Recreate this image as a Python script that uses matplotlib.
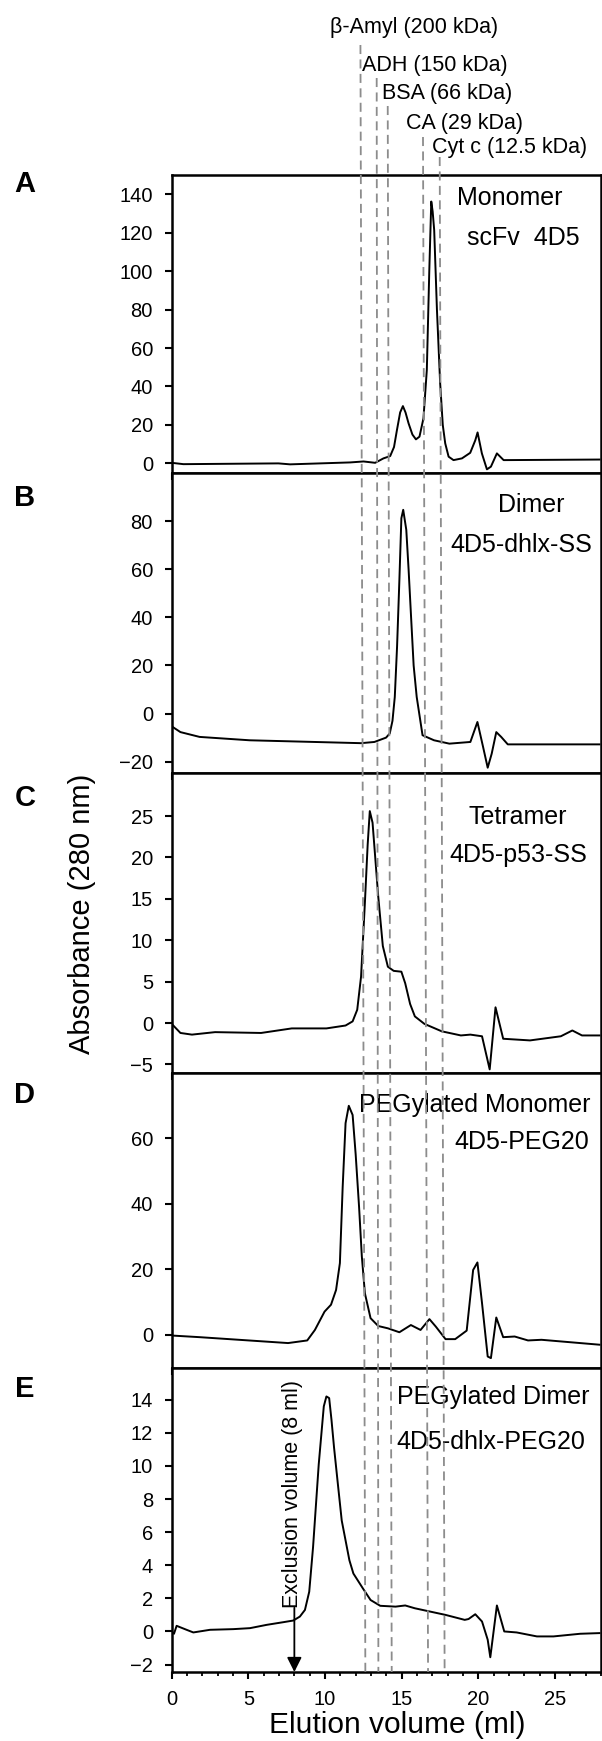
import matplotlib
matplotlib.use("Agg")
import matplotlib.pyplot as plt
from matplotlib.lines import Line2D
from matplotlib.transforms import blended_transform_factory
import numpy as np

plt.rcParams['font.family'] = ['Liberation Sans', 'DejaVu Sans']

# ---------------- data ----------------
a_x = [0.0, 0.76, 6.96, 7.72, 11.64, 12.51, 13.27, 13.81, 14.25, 14.5, 14.69, 14.9, 15.08, 15.25, 15.45,
       15.7, 15.93, 16.16, 16.42, 16.64, 16.8, 16.93, 17.02, 17.12, 17.30, 17.51, 17.68, 17.84, 18.06,
       18.38, 18.93, 19.47, 19.8, 19.95, 20.23, 20.56, 20.82, 21.21, 21.65, 27.9]
a_y = [0.3, -0.4, 0.0, -0.5, 0.5, 1.0, 0.3, 2.6, 3.8, 8.5, 17.3, 26.5, 29.8, 26.5, 20.8,
       15.0, 12.5, 13.9, 23.4, 48.6, 100.0, 136.2, 131.0, 121.4, 79.8, 41.6, 20.0, 10.4, 3.5,
       1.7, 2.6, 5.5, 12.0, 16.1, 5.2, -3.1, -1.7, 5.2, 1.7, 2.0]

b_x = [0.0, 0.57, 1.82, 5.08, 12.35, 13.22, 13.98, 14.22, 14.4, 14.55, 14.7, 14.85, 14.98, 15.10, 15.30,
       15.45, 15.60, 15.78, 15.98, 16.36, 17.11, 18.11, 19.48, 19.94, 20.31, 20.61, 20.87, 21.17,
       21.49, 21.92, 27.9]
b_y = [-5.3, -7.7, -9.7, -11.1, -12.3, -11.8, -10.0, -8.3, -3.0, 6.9, 28.0, 55.5, 81.2, 84.7, 76.4,
       60.0, 41.7, 20.0, 6.9, -9.0, -11.1, -12.5, -11.8, -3.5, -13.9, -22.5, -16.7, -7.7,
       -9.7, -12.8, -12.8]

c_x = [0.0, 0.57, 1.32, 2.83, 5.83, 7.83, 10.09, 11.34, 11.8, 12.10, 12.35, 12.60, 12.78, 12.92, 13.10,
       13.47, 13.77, 14.10, 14.48, 14.98, 15.23, 15.55, 15.86, 16.48, 17.61, 18.86, 19.48, 20.24,
       20.74, 21.12, 21.62, 23.37, 25.38, 26.13, 26.76, 27.9]
c_y = [-0.1, -1.2, -1.4, -1.1, -1.2, -0.65, -0.65, -0.3, 0.2, 1.6, 5.6, 14.5, 21.5, 25.6, 24.2,
       15.3, 9.3, 6.8, 6.3, 6.2, 4.8, 2.3, 0.8, -0.1, -1.0, -1.5, -1.4, -1.6,
       -5.6, 1.9, -1.9, -2.1, -1.6, -0.9, -1.5, -1.5]

d_x = [0.0, 1.82, 7.59, 8.84, 9.34, 9.97, 10.39, 10.72, 10.97, 11.15, 11.34, 11.55, 11.80, 12.0, 12.22,
       12.40, 12.60, 12.97, 13.47, 14.10, 14.85, 15.60, 16.23, 16.81, 17.23, 17.86, 18.49, 19.24,
       19.66, 19.94, 20.24, 20.61, 20.82, 21.17, 21.62, 22.37, 23.24, 24.12, 27.9]
d_y = [-0.2, -0.7, -2.5, -1.7, 1.5, 7.1, 9.2, 13.7, 21.9, 45.0, 64.6, 69.9, 67.1, 55.0, 39.1,
       24.0, 12.7, 5.1, 2.7, 2.0, 0.8, 3.0, 1.5, 4.8, 2.5, -1.3, -1.3, 1.3,
       19.8, 22.1, 9.7, -6.6, -7.1, 5.3, -0.7, -0.5, -1.7, -1.5, -3.0]

e_x = [0.0, 0.15, 0.32, 0.97, 1.41, 2.5, 4.02, 5.11, 6.2, 7.28, 7.93, 8.36, 8.69, 8.97, 9.22, 9.59,
       9.92, 10.09, 10.27, 10.42, 10.59, 10.85, 11.09, 11.59, 11.85, 12.47, 12.97, 13.6, 14.6, 15.23,
       15.86, 16.86, 17.86, 19.11, 19.36, 19.8, 20.24, 20.61, 20.78, 21.21, 21.69, 22.5, 23.82,
       24.9, 26.64, 27.9]
e_y = [0.0, -0.14, 0.34, 0.10, -0.06, 0.10, 0.14, 0.2, 0.4, 0.56, 0.66, 0.9, 1.3, 2.4, 5.1, 10.1,
       13.6, 14.2, 14.1, 12.8, 11.1, 8.8, 6.7, 4.3, 3.5, 2.6, 1.9, 1.55, 1.5, 1.57,
       1.4, 1.2, 1.0, 0.7, 0.75, 1.04, 0.6, -0.5, -1.56, 1.57, 0.0, -0.06, -0.3,
       -0.3, -0.14, -0.1]

panel_letters = ['A', 'B', 'C', 'D', 'E']
panel_names = ['Monomer', 'Dimer', 'Tetramer', 'PEGylated Monomer', 'PEGylated Dimer']
panel_constructs = ['scFv  4D5', '4D5-dhlx-SS', '4D5-p53-SS', '4D5-PEG20', '4D5-dhlx-PEG20']
panel_ylims = [(-5, 150), (-24.7, 100), (-6, 30.2), (-10.2, 80), (-2.45, 15.9)]
panel_yticks = [list(range(0, 141, 20)), list(range(-20, 81, 20)), list(range(-5, 26, 5)),
                [0, 20, 40, 60], list(range(-2, 15, 2))]

standards = ['β-Amyl (200 kDa)', 'ADH (150 kDa)', 'BSA (66 kDa)', 'CA (29 kDa)', 'Cyt c (12.5 kDa)']
standards_ml_top = [12.31, 13.37, 14.09, 16.39, 17.48]
standards_ml_bottom = [12.63, 13.48, 14.35, 16.72, 17.80]

exclusion_ml = 8
x_ticks = [0, 5, 10, 15, 20, 25]

# ---------------- layout ----------------
W, H = 602, 1741
fig = plt.figure(figsize=(W / 100, H / 100), dpi=100)

left_px, right_px = 171.7, 601
tops = [175, 473, 773, 1072.7, 1368.3]
bots = [473, 773, 1072.7, 1368.3, 1672]

series = [(a_x, a_y), (b_x, b_y), (c_x, c_y), (d_x, d_y), (e_x, e_y)]
letter_y = [184, 498, 798, 1095, 1389]
name_pos = [(510, 198, 'center'), (531, 505, 'center'), (518, 817, 'center'),
            (359, 1105, 'left'), (397, 1397, 'left')]
cons_pos = [(523, 238), (521, 545), (518, 855), (522, 1142), (491, 1442)]

axes = []
for i in range(5):
    ax = fig.add_axes([left_px / W, 1 - bots[i] / H, (right_px - left_px) / W, (bots[i] - tops[i]) / H])
    x, y = series[i]
    ax.plot(x, y, color='black', lw=1.4, zorder=3)
    ax.set_xlim(0, 28)
    ax.set_ylim(*panel_ylims[i])
    ax.set_yticks(panel_yticks[i])
    ax.set_xticks(x_ticks)
    ax.set_xticks(np.arange(0, 28.1, 1), minor=True)
    ax.tick_params(axis='y', direction='out', length=5, width=1.5, labelsize=14.5, pad=8.5)
    ax.tick_params(axis='x', which='major', direction='out', length=5, width=1.5, labelsize=14.5, pad=8)
    ax.tick_params(axis='x', which='minor', direction='out', length=3, width=1.3)
    for s in ax.spines.values():
        s.set_linewidth(1.8)
    if i < 4:
        ax.tick_params(axis='x', labelbottom=False)
    fig.text(25 / W, 1 - letter_y[i] / H, panel_letters[i], fontsize=21, fontweight='bold',
             ha='center', va='center')
    nx, ny, nha = name_pos[i]
    fig.text(nx / W, 1 - ny / H, panel_names[i], fontsize=18, ha=nha, va='center')
    cx, cy = cons_pos[i]
    fig.text(cx / W, 1 - cy / H, panel_constructs[i], fontsize=18, ha='center', va='center')
    axes.append(ax)

axE = axes[-1]

# standards dashed lines spanning all panels
trans = blended_transform_factory(axE.transData, fig.transFigure)
line_tops = [45, 78, 106, 137, 157]
label_left = [330, 362, 382, 406, 432]
label_y = [27, 65, 93, 124, 147]
for k in range(len(standards)):
    ln = Line2D([standards_ml_top[k], standards_ml_bottom[k]],
                [1 - line_tops[k] / H, 1 - bots[-1] / H],
                transform=trans, color='#8c8c8c', lw=1.3, linestyle=(0, (5, 3)), zorder=5)
    fig.add_artist(ln)
    fig.text(label_left[k] / W, 1 - label_y[k] / H, standards[k], fontsize=15.5,
             ha='left', va='center')

# exclusion volume arrow
axE.annotate('', xy=(exclusion_ml, panel_ylims[4][0]), xytext=(exclusion_ml, 1.43),
             arrowprops=dict(arrowstyle='-|>', color='black', lw=1.3, mutation_scale=22,
                             shrinkA=0, shrinkB=0), annotation_clip=False)
axE.text(exclusion_ml - 0.12, 1.4, 'Exclusion volume (8 ml)', rotation=90, ha='center',
         va='bottom', fontsize=15.5)

fig.text(82 / W, 1 - 914 / H, 'Absorbance (280 nm)', rotation=90, fontsize=21,
         ha='center', va='center')
fig.text(397.5 / W, 1 - 1725 / H, 'Elution volume (ml)', fontsize=21.5, ha='center', va='center')

fig.savefig('out.png', dpi=100)
